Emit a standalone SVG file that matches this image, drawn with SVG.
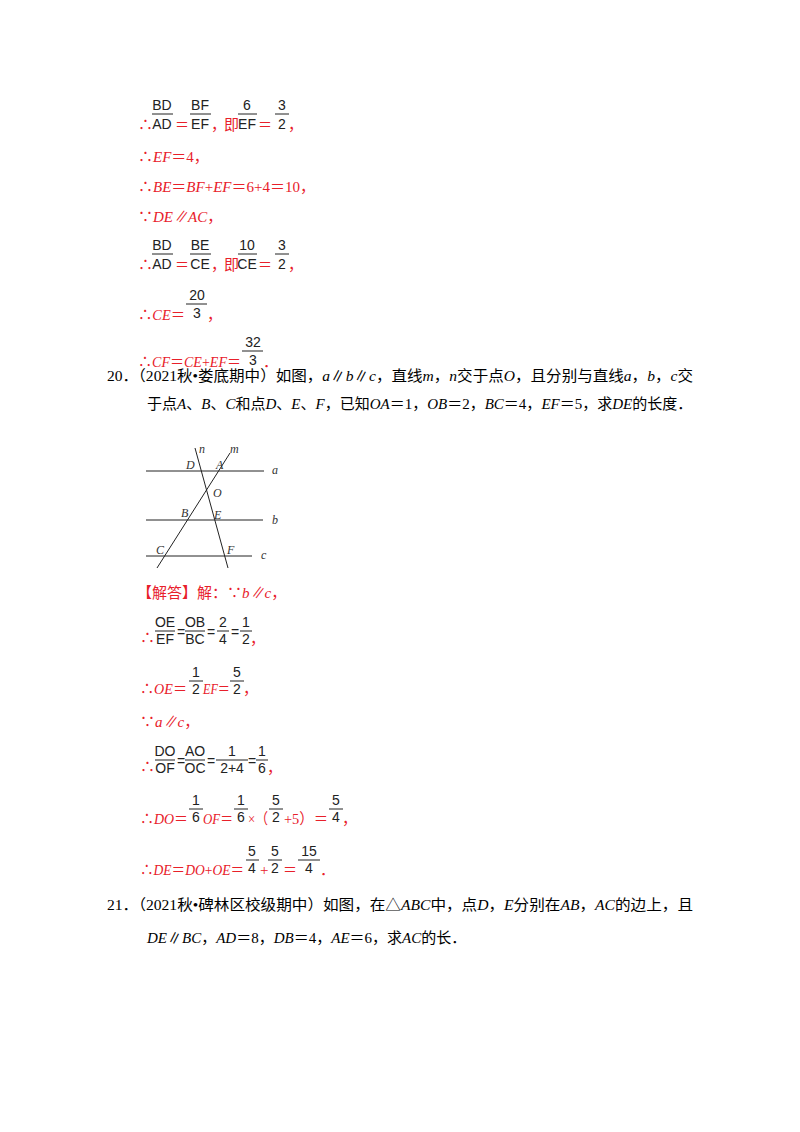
<svg xmlns="http://www.w3.org/2000/svg" width="800" height="1132" viewBox="0 0 800 1132">
<style>
.r{fill:#e8202a;font-family:"Liberation Serif","Noto Sans CJK SC",serif;font-size:15px}
.i{font-style:italic}
.k{fill:#000;font-family:"Liberation Serif","Noto Sans CJK SC",serif;font-size:15px}
.f{fill:#222;font-family:"Liberation Sans",sans-serif;font-size:14px;text-anchor:middle}
.bar{stroke:#222;stroke-width:1}
.g{stroke:#222;stroke-width:1;fill:none}
.gl{fill:#333;font-family:"Liberation Serif",serif;font-style:italic;font-size:12px}
</style>
<rect width="800" height="1132" fill="#fff"/>
<g id="sol19">
<text class="r" x="138" y="130">∴</text>
<text class="f" x="162" y="110">BD</text><line class="bar" x1="152" y1="114" x2="173" y2="114"/><text class="f" x="162" y="129">AD</text>
<text class="r" x="175" y="130" textLength="14" lengthAdjust="spacingAndGlyphs">＝</text>
<text class="f" x="200" y="110">BF</text><line class="bar" x1="190" y1="114" x2="211" y2="114"/><text class="f" x="200" y="129">EF</text>
<text class="r" x="211" y="130">，</text>
<text class="r" x="224" y="130" font-size="13">即</text>
<text class="f" x="247" y="110">6</text><line class="bar" x1="238" y1="114" x2="257" y2="114"/><text class="f" x="247" y="129">EF</text>
<text class="r" x="258" y="130" textLength="14" lengthAdjust="spacingAndGlyphs">＝</text>
<text class="f" x="282" y="110">3</text><line class="bar" x1="275" y1="114" x2="289" y2="114"/><text class="f" x="282" y="129">2</text>
<text class="r" x="288" y="130">，</text>
<text class="r" x="138" y="162">∴<tspan class="i">EF</tspan>＝4，</text>
<text class="r" x="138" y="192">∴<tspan class="i">BE</tspan>＝<tspan class="i">BF</tspan>+<tspan class="i">EF</tspan>＝6+4＝10，</text>
<text class="r" x="138" y="222">∵<tspan class="i">DE∥AC</tspan>，</text>
<text class="r" x="138" y="270">∴</text>
<text class="f" x="162" y="250">BD</text><line class="bar" x1="152" y1="254" x2="173" y2="254"/><text class="f" x="162" y="269">AD</text>
<text class="r" x="175" y="270" textLength="14" lengthAdjust="spacingAndGlyphs">＝</text>
<text class="f" x="200" y="250">BE</text><line class="bar" x1="190" y1="254" x2="211" y2="254"/><text class="f" x="200" y="269">CE</text>
<text class="r" x="211" y="270">，</text>
<text class="r" x="224" y="270" font-size="13">即</text>
<text class="f" x="247" y="250">10</text><line class="bar" x1="238" y1="254" x2="257" y2="254"/><text class="f" x="247" y="269">CE</text>
<text class="r" x="258" y="270" textLength="14" lengthAdjust="spacingAndGlyphs">＝</text>
<text class="f" x="282" y="250">3</text><line class="bar" x1="275" y1="254" x2="289" y2="254"/><text class="f" x="282" y="269">2</text>
<text class="r" x="288" y="270">，</text>
<text class="r" x="138" y="320" textLength="47" lengthAdjust="spacingAndGlyphs">∴<tspan class="i">CE</tspan>＝</text>
<text class="f" x="197" y="300">20</text><line class="bar" x1="186" y1="304" x2="207" y2="304"/><text class="f" x="197" y="318">3</text>
<text class="r" x="207" y="320">，</text>
<text class="r" x="138" y="367" textLength="103" lengthAdjust="spacingAndGlyphs">∴<tspan class="i">CF</tspan>＝<tspan class="i">CE</tspan>+<tspan class="i">EF</tspan>＝</text>
<text class="f" x="253" y="347">32</text><line class="bar" x1="242" y1="351" x2="263" y2="351"/><text class="f" x="253" y="365">3</text>
<text class="r" x="263" y="367">．</text>
</g>
<g id="q20">
<text class="k" x="107" y="381" textLength="586" lengthAdjust="spacingAndGlyphs">20．（2021秋•娄底期中）如图，<tspan class="i">a</tspan>∥<tspan class="i">b</tspan>∥<tspan class="i">c</tspan>，直线<tspan class="i">m</tspan>，<tspan class="i">n</tspan>交于点<tspan class="i">O</tspan>，且分别与直线<tspan class="i">a</tspan>，<tspan class="i">b</tspan>，<tspan class="i">c</tspan>交</text>
<text class="k" x="147" y="409">于点<tspan class="i">A</tspan>、<tspan class="i">B</tspan>、<tspan class="i">C</tspan>和点<tspan class="i">D</tspan>、<tspan class="i">E</tspan>、<tspan class="i">F</tspan>，已知<tspan class="i">OA</tspan>＝1，<tspan class="i">OB</tspan>＝2，<tspan class="i">BC</tspan>＝4，<tspan class="i">EF</tspan>＝5，求<tspan class="i">DE</tspan>的长度．</text>
</g>
<g id="figure">
<line class="g" x1="146" y1="471" x2="264" y2="471" stroke-width="1.5"/>
<line class="g" x1="146" y1="520" x2="263" y2="520"/>
<line class="g" x1="146" y1="556" x2="252" y2="556" stroke-width="1.5"/>
<line class="g" x1="195" y1="448" x2="228" y2="568"/>
<line class="g" x1="230" y1="453" x2="157" y2="568"/>
<text class="gl" x="199" y="453">n</text><text class="gl" x="230" y="453">m</text>
<text class="gl" x="186" y="469">D</text><text class="gl" x="216" y="469">A</text>
<text class="gl" x="213" y="497">O</text><text class="gl" x="181" y="517">B</text>
<text class="gl" x="214" y="519">E</text><text class="gl" x="156" y="554">C</text>
<text class="gl" x="227" y="554">F</text>
<text class="gl" x="272" y="474">a</text><text class="gl" x="272" y="524">b</text><text class="gl" x="261" y="559">c</text>
</g>
<g id="sol20">
<text class="r" x="137" y="598">【解答】解：∵<tspan class="i">b∥c</tspan>，</text>
<text class="r" x="140" y="643">∴</text>
<text class="f" x="165" y="627">OE</text><line class="bar" x1="155" y1="631" x2="175" y2="631"/><text class="f" x="165" y="644">EF</text>
<text class="f" x="181" y="637">=</text>
<text class="f" x="195" y="627">OB</text><line class="bar" x1="185" y1="631" x2="205" y2="631"/><text class="f" x="195" y="644">BC</text>
<text class="f" x="211" y="637">=</text>
<text class="f" x="223" y="627">2</text><line class="bar" x1="217" y1="631" x2="229" y2="631"/><text class="f" x="223" y="644">4</text>
<text class="f" x="235" y="637">=</text>
<text class="f" x="246" y="627">1</text><line class="bar" x1="240" y1="631" x2="252" y2="631"/><text class="f" x="246" y="644">2</text>
<text class="r" x="250" y="644">，</text>
<text class="r" x="140" y="694" textLength="47" lengthAdjust="spacingAndGlyphs">∴<tspan class="i">OE</tspan>＝</text>
<text class="f" x="196" y="677">1</text><line class="bar" x1="189" y1="681" x2="203" y2="681"/><text class="f" x="196" y="694">2</text>
<text class="r" x="203" y="694" textLength="27" lengthAdjust="spacingAndGlyphs"><tspan class="i">EF</tspan>＝</text>
<text class="f" x="237" y="677">5</text><line class="bar" x1="230" y1="681" x2="244" y2="681"/><text class="f" x="237" y="694">2</text>
<text class="r" x="243" y="694">，</text>
<text class="r" x="140" y="727">∵<tspan class="i">a∥c</tspan>，</text>
<text class="r" x="140" y="772">∴</text>
<text class="f" x="165" y="756">DO</text><line class="bar" x1="155" y1="760" x2="175" y2="760"/><text class="f" x="165" y="773">OF</text>
<text class="f" x="181" y="766">=</text>
<text class="f" x="195" y="756">AO</text><line class="bar" x1="185" y1="760" x2="205" y2="760"/><text class="f" x="195" y="773">OC</text>
<text class="f" x="211" y="766">=</text>
<text class="f" x="232" y="756">1</text><line class="bar" x1="216" y1="760" x2="248" y2="760"/><text class="f" x="232" y="773">2+4</text>
<text class="f" x="252" y="766">=</text>
<text class="f" x="262" y="756">1</text><line class="bar" x1="256" y1="760" x2="268" y2="760"/><text class="f" x="262" y="773">6</text>
<text class="r" x="267" y="773">，</text>
<text class="r" x="140" y="824" textLength="48" lengthAdjust="spacingAndGlyphs">∴<tspan class="i">DO</tspan>＝</text>
<text class="f" x="196" y="805">1</text><line class="bar" x1="189" y1="809" x2="203" y2="809"/><text class="f" x="196" y="822">6</text>
<text class="r" x="203" y="824" textLength="30" lengthAdjust="spacingAndGlyphs"><tspan class="i">OF</tspan>＝</text>
<text class="f" x="241" y="805">1</text><line class="bar" x1="234" y1="809" x2="248" y2="809"/><text class="f" x="241" y="822">6</text>
<text class="r" x="248" y="824" textLength="20" lengthAdjust="spacingAndGlyphs">×（</text>
<text class="f" x="276" y="805">5</text><line class="bar" x1="269" y1="809" x2="283" y2="809"/><text class="f" x="276" y="822">2</text>
<text class="r" x="284" y="824" textLength="44" lengthAdjust="spacingAndGlyphs">+5）＝</text>
<text class="f" x="336" y="805">5</text><line class="bar" x1="329" y1="809" x2="343" y2="809"/><text class="f" x="336" y="822">4</text>
<text class="r" x="342" y="824">，</text>
<text class="r" x="140" y="875" textLength="104" lengthAdjust="spacingAndGlyphs">∴<tspan class="i">DE</tspan>＝<tspan class="i">DO</tspan>+<tspan class="i">OE</tspan>＝</text>
<text class="f" x="252" y="856">5</text><line class="bar" x1="246" y1="860" x2="259" y2="860"/><text class="f" x="252" y="873">4</text>
<text class="r" x="260" y="875">+</text>
<text class="f" x="275" y="856">5</text><line class="bar" x1="268" y1="860" x2="282" y2="860"/><text class="f" x="275" y="873">2</text>
<text class="r" x="283" y="875" textLength="14" lengthAdjust="spacingAndGlyphs">＝</text>
<text class="f" x="309" y="856">15</text><line class="bar" x1="298" y1="860" x2="320" y2="860"/><text class="f" x="309" y="873">4</text>
<text class="r" x="320" y="875">．</text>
</g>
<g id="q21">
<text class="k" x="107" y="910" textLength="586" lengthAdjust="spacingAndGlyphs">21．（2021秋•碑林区校级期中）如图，在△<tspan class="i">ABC</tspan>中，点<tspan class="i">D</tspan>，<tspan class="i">E</tspan>分别在<tspan class="i">AB</tspan>，<tspan class="i">AC</tspan>的边上，且</text>
<text class="k" x="147" y="943"><tspan class="i">DE</tspan>∥<tspan class="i">BC</tspan>，<tspan class="i">AD</tspan>＝8，<tspan class="i">DB</tspan>＝4，<tspan class="i">AE</tspan>＝6，求<tspan class="i">AC</tspan>的长．</text>
</g>
</svg>
